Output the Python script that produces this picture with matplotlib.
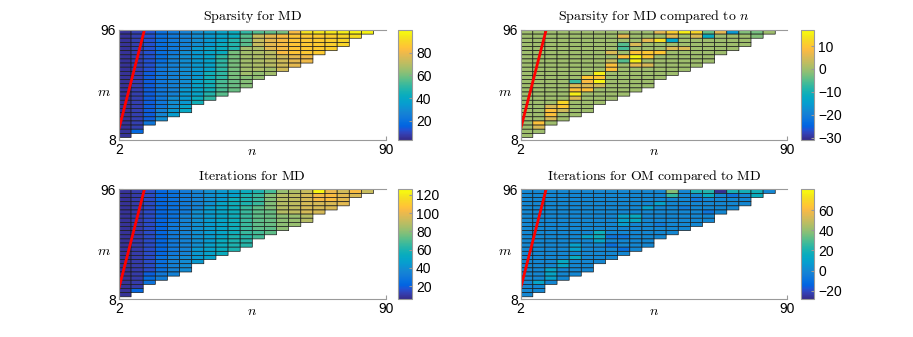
import numpy as np
import matplotlib
matplotlib.use("Agg")
import matplotlib.pyplot as plt
from matplotlib.colors import LinearSegmentedColormap

plt.rcParams['mathtext.fontset'] = 'cm'
plt.rcParams['font.family'] = ['Liberation Sans', 'DejaVu Sans']

# parula, R2014b flavour (every second entry of the 64 colour table)
parula_rgb = [
    (0.2081, 0.1663, 0.5292), (0.2123, 0.2138, 0.6270), (0.1959, 0.2645, 0.7279),
    (0.1253, 0.3242, 0.8303), (0.0117, 0.3875, 0.8820), (0.0165, 0.4266, 0.8786),
    (0.0498, 0.4586, 0.8641), (0.0723, 0.4887, 0.8467), (0.0793, 0.5200, 0.8312),
    (0.0641, 0.5570, 0.8240), (0.0343, 0.5966, 0.8199), (0.0239, 0.6287, 0.8038),
    (0.0228, 0.6535, 0.7768), (0.0384, 0.6743, 0.7436), (0.0843, 0.6928, 0.7062),
    (0.1453, 0.7098, 0.6646), (0.2178, 0.7250, 0.6193), (0.3022, 0.7376, 0.5712),
    (0.3953, 0.7459, 0.5244), (0.4871, 0.7491, 0.4840), (0.5709, 0.7485, 0.4494),
    (0.6473, 0.7456, 0.4188), (0.7184, 0.7411, 0.3905), (0.7858, 0.7356, 0.3633),
    (0.8507, 0.7299, 0.3360), (0.9139, 0.7258, 0.3063), (0.9739, 0.7314, 0.2666),
    (0.9990, 0.7653, 0.2164), (0.9880, 0.8066, 0.1794), (0.9697, 0.8481, 0.1475),
    (0.9589, 0.8949, 0.1132), (0.9661, 0.9514, 0.0755), (0.9763, 0.9831, 0.0538),
]
parula = LinearSegmentedColormap.from_list('parula', parula_rgb, N=256)

# grid: n columns (2..86 step 4), m rows from 96 down to 10
n_edges = np.arange(2, 87, 4)
m_edges = np.linspace(96, 10, 27)
col_rows = [26, 25, 23, 22, 21, 20, 18, 17, 16, 15, 14, 12, 11, 10, 9, 8, 6, 5, 4, 2, 1]

# Sparsity for MD, each column from top (m=96) downwards
sparsity_md = [
    [5] * 26,
    [8] * 24 + [17],
    [12] * 10 + [14] * 12 + [22],
    [19] * 8 + [22] * 11 + [26, 28, 30],
    [23] * 6 + [26] * 10 + [30] * 3 + [33, 35],
    [26] * 5 + [30] * 9 + [34] * 4 + [38, 40],
    [30] * 4 + [34] * 8 + [38] * 4 + [42, 44],
    [34] * 4 + [38] * 6 + [44] * 5 + [48, 50],
    [38] * 3 + [42] * 3 + [50] * 6 + [54] * 3 + [56],
    [42] * 2 + [48] * 3 + [60] * 7 + [58] * 3,
    [50] + [56] * 3 + [66] * 7 + [62] * 3,
    [55] + [72] * 3 + [68] * 6 + [64] * 2,
    [57] + [78] * 4 + [70] * 4 + [66] * 2,
    [60] + [82] * 5 + [74] * 4,
    [82] + [85] * 5 + [78] * 3,
    [93] + [86] * 5 + [80] * 2,
    [94] + [87] * 5,
    [95] + [88] * 4,
    [96] + [90] * 3,
    [97, 92],
    [97],
]

# Iterations for MD
iterations_md = [
    [8] * 26,
    [11] * 24 + [22],
    [15] * 20 + [20, 24, 28],
    [22] * 16 + [26] * 4 + [30, 32],
    [27] * 8 + [30] * 8 + [34] * 5,
    [31] * 6 + [35] * 10 + [38] * 4,
    [35] * 5 + [40] * 9 + [44] * 4,
    [40] * 4 + [45] * 9 + [48] * 4,
    [44] * 3 + [50] * 9 + [54] * 4,
    [48] * 2 + [56] * 9 + [60] * 4,
    [54] + [60] * 3 + [66] * 7 + [62] * 3,
    [60] + [66] * 3 + [72] * 6 + [68] * 2,
    [68] + [78] * 4 + [74] * 4 + [72] * 2,
    [82] + [88] * 5 + [80] * 4,
    [86] + [90] * 5 + [82] * 3,
    [92] + [95] * 5 + [88] * 2,
    [124] + [102] * 2 + [95] * 3,
    [100] + [104] * 2 + [96] * 2,
    [94] + [98] * 3,
    [104, 96],
    [92],
]

# Sparsity for MD compared to n: common value plus deviating cells (column, row, value)
sparsity_vs_n_base = 0
sparsity_vs_n_cells = [
    (1, 22, 9), (1, 23, 5),
    (2, 18, 5), (2, 19, 9), (2, 20, 9), (2, 21, 5),
    (3, 17, 12), (3, 18, 10), (3, 19, 4),
    (4, 12, -7), (4, 13, 5), (4, 14, 9), (4, 15, 15), (4, 16, 5),
    (5, 11, 10), (5, 12, 8), (5, 13, 5), (5, 14, 9),
    (6, 10, 15), (6, 11, 10), (6, 12, 16), (6, 13, 4),
    (7, 5, 5), (7, 7, 3), (7, 8, 9), (7, 9, 9),
    (8, 1, 6), (8, 3, -5), (8, 4, -6), (8, 6, 9), (8, 7, -5),
    (9, 3, 5), (9, 5, 9), (9, 6, 16), (9, 7, 15), (9, 8, 6),
    (10, 2, 6), (10, 5, 10), (10, 6, 10), (10, 8, 5),
    (11, 0, 6), (11, 2, 13), (11, 5, 10),
    (12, 0, 11), (12, 1, 6), (12, 2, -13), (12, 4, 5),
    (13, 0, 15), (13, 4, 5),
    (14, 0, 12), (14, 1, 5),
    (15, 0, -4), (15, 1, -12),
    (16, 0, 6),
    (17, 0, -16),
    (18, 0, -2),
    (19, 0, -3), (19, 1, -2),
]

# Iterations for OM compared to MD
iter_om_base = 0
iter_om_cells = [
    (1, 22, 12),
    (2, 19, 12), (2, 20, 12), (2, 21, 10),
    (3, 17, 14), (3, 18, 12),
    (4, 13, 10), (4, 14, 10), (4, 16, 15),
    (5, 11, 10),
    (6, 10, 17), (6, 11, 17), (6, 12, 12),
    (7, 11, -8), (7, 13, -10),
    (8, 6, 10), (8, 7, 10), (8, 8, 8), (8, 11, -8), (8, 14, -10),
    (9, 6, 14), (9, 7, 14),
    (10, 4, 10),
    (11, 3, 10), (11, 8, -5),
    (12, 0, 38), (12, 1, 25),
    (13, 4, -5),
    (14, 0, 20), (14, 2, -6),
    (15, 0, 22), (15, 1, 15), (15, 5, -8),
    (16, 0, -27),
    (17, 0, 20), (17, 1, -8),
    (18, 0, 18),
    (19, 0, 18), (19, 1, 16),
]

# red reference line
line_n = [2, 10.4]
line_m = [17, 96]


def from_columns(cols):
    z = np.full((len(m_edges) - 1, len(n_edges) - 1), np.nan)
    for k, col in enumerate(cols):
        z[:len(col), k] = col
    return np.ma.masked_invalid(z)


def from_cells(base, cells):
    z = np.full((len(m_edges) - 1, len(n_edges) - 1), np.nan)
    for k, cnt in enumerate(col_rows):
        z[:cnt, k] = base
    for k, j, v in cells:
        z[j, k] = v
    return np.ma.masked_invalid(z)


panels = [
    (r'$\mathrm{Sparsity\ for\ MD}$', from_columns(sparsity_md), (3, 100), [20, 40, 60, 80]),
    (r'$\mathrm{Sparsity\ for\ MD\ compared\ to\ }n$', from_cells(sparsity_vs_n_base, sparsity_vs_n_cells),
     (-31, 17), [-30, -20, -10, 0, 10]),
    (r'$\mathrm{Iterations\ for\ MD}$', from_columns(iterations_md), (5.5, 126), [20, 40, 60, 80, 100, 120]),
    (r'$\mathrm{Iterations\ for\ OM\ compared\ to\ MD}$', from_cells(iter_om_base, iter_om_cells),
     (-28.5, 80.7), [-20, 0, 20, 40, 60]),
]

fig = plt.figure(figsize=(9.13, 3.37), dpi=100)
lefts = [0.1303, 0.5703]
cb_lefts = [0.4363, 0.877]
bottoms = [0.5846, 0.1119]
height = 0.3264
spine_col = '#9a9a9a'

for i, (title, z, (vmin, vmax), cticks) in enumerate(panels):
    r, c = divmod(i, 2)
    ax = fig.add_axes([lefts[c], bottoms[r], 0.2921, height])
    pc = ax.pcolor(n_edges, m_edges, z, cmap=parula, vmin=vmin, vmax=vmax,
                   edgecolors='#1a1a1a', linewidth=0.5)
    ax.plot(line_n, line_m, color='red', lw=2)
    ax.set_xlim(2, 90)
    ax.set_ylim(8, 96)
    ax.set_xticks([2, 90])
    ax.set_yticks([8, 96])
    ax.tick_params(direction='in', length=3, labelsize=10, color=spine_col, pad=2)
    for s in ['top', 'bottom', 'left']:
        ax.spines[s].set_color(spine_col)
        ax.spines[s].set_linewidth(0.8)
    ax.spines['right'].set_visible(False)
    ax.set_title(title, fontsize=10, pad=7)
    ax.set_xlabel('$n$', fontsize=10, labelpad=-9)
    ax.set_ylabel('$m$', fontsize=10, rotation=0, labelpad=-2, va='top')

    cax = fig.add_axes([cb_lefts[c], bottoms[r], 0.0147, height])
    cb = fig.colorbar(pc, cax=cax, ticks=cticks)
    cb.outline.set_edgecolor(spine_col)
    cb.outline.set_linewidth(0.8)
    cax.tick_params(direction='in', length=2, labelsize=10, color=spine_col, pad=3)

fig.savefig('out.png', dpi=100)
